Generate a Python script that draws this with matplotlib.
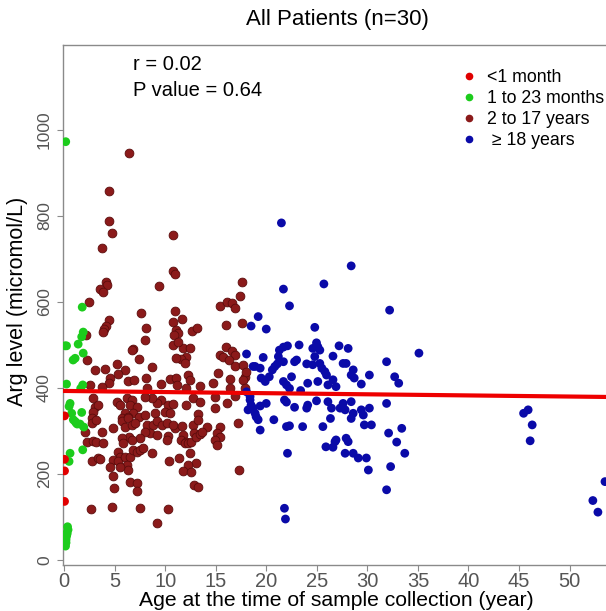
import numpy as np
import matplotlib
matplotlib.use("Agg")
import matplotlib.pyplot as plt
from matplotlib.lines import Line2D

plt.rcParams["font.family"] = ["Liberation Sans", "DejaVu Sans"]

# ── data ──────────────────────────────────────────────────
# <1 month
red_age = [0.05, 0.05, 0.05, 0.05]
red_val = [335, 234, 207, 136]

# 1 to 23 months
green_age = [0.17, 1.8, 1.9, 1.75, 1.4, 0.1, 0.25, 1.1, 0.9, 1.9, 1.85, 1.65, 0.25,
             0.6, 0.5, 0.76, 0.92, 1.19, 1.58, 1.75, 1.1, 1.3, 1.95, 0.6, 0.5, 1.85,
             0.35, 0.4, 0.3, 0.25, 0.2, 0.2, 0.15, 0.3]
green_val = [973, 588, 530, 519, 502, 498, 498, 469, 465, 481, 407, 399, 409,
             364, 357, 341, 326, 319, 316, 343, 322, 316, 309, 248, 229, 256,
             77, 70, 63, 55, 47, 40, 32, 60]

# 2 to 17 years
dred_age = [6.42, 4.48, 4.48, 4.78, 3.72, 10.8, 10.8, 10.97, 9.42, 4.15, 4.28, 3.56, 3.82,
            2.47, 4.45, 4.15, 3.95, 3.88, 7.6, 8.1, 8.0, 10.97, 10.8, 11.63, 11.07, 11.3,
            10.87, 12.7, 13.2, 15.4, 16.1, 16.0, 16.0, 6.8, 10.8, 11.8, 12.45,
            17.6, 17.4, 16.6, 16.9, 17.6, 11.3, 16.6, 15.4, 15.7, 16.9, 16.3, 16.9, 17.7,
            17.9, 17.95, 12.1, 11.6, 11.1, 11.95, 15.2, 16.4, 17.7, 9.6, 10.5, 11.1, 11.2,
            12.3, 12.45, 12.1, 13.4, 14.75, 16.4, 17.9, 9.6, 10.3, 10.8, 10.0, 10.5, 12.1,
            12.8, 13.4, 14.9, 14.9, 16.1, 13.3, 16.9,
            2.17, 6.69, 7.44, 2.3, 3.06, 4.05, 5.27, 6.03, 4.55, 4.48, 5.37, 6.35, 6.92,
            8.1, 8.67, 8.23, 2.57, 3.72, 2.9, 3.06, 3.39, 5.2, 5.53, 6.2, 6.69, 6.52, 7.18,
            6.0, 6.85, 7.44, 8.0, 9.0, 9.16, 8.67, 8.0, 5.7, 6.35,
            2.9, 2.73, 2.73, 3.16, 2.07, 2.3, 2.84, 3.16, 3.88, 3.72, 2.73, 3.39, 3.56,
            4.87, 5.7, 6.03, 6.35, 6.69, 7.0, 8.23, 8.83, 8.5, 9.16, 8.0, 7.5, 6.45, 6.69,
            5.7, 5.86, 5.37, 5.53, 4.87, 5.37, 6.03, 6.52, 6.85, 7.18, 7.5, 7.84, 8.67,
            6.2, 6.35, 5.53, 4.55, 4.81, 4.94, 6.52, 7.18, 7.24, 4.71, 7.5, 2.67, 9.2,
            9.16, 9.65, 10.15, 10.97, 10.8, 11.63, 12.8, 13.3, 14.1, 15.4, 15.1, 15.4,
            14.9, 15.1, 10.3, 10.15, 11.8, 11.6, 12.1, 11.95, 12.3, 12.6, 12.9, 13.1,
            13.4, 13.6, 12.45, 13.1, 10.4, 11.4, 12.3, 11.8, 12.55, 17.2, 17.3, 12.9,
            13.3, 10.3]
dred_val = [946, 859, 789, 760, 726, 756, 671, 665, 638, 647, 640, 630, 623,
            601, 557, 544, 536, 530, 574, 540, 512, 580, 554, 560, 535, 527,
            523, 533, 540, 591, 601, 546, 496, 490, 500, 492, 494,
            647, 615, 597, 585, 552, 508, 485, 477, 471, 477, 465, 450, 453,
            426, 438, 473, 467, 469, 458, 434, 420, 419, 409, 421, 423, 407,
            430, 419, 399, 405, 411, 399, 399, 372, 360, 363, 345, 341, 360,
            376, 368, 380, 353, 364, 339, 381,
            523, 488, 467, 465, 442, 444, 456, 442, 423, 411, 433, 415, 419,
            423, 448, 399, 407, 403, 376, 356, 360, 368, 360, 376, 372, 360, 356,
            341, 341, 333, 337, 341, 364, 376, 380, 329, 333,
            343, 330, 318, 326, 298, 274, 277, 275, 273, 298, 229, 238, 234,
            306, 322, 310, 330, 314, 318, 314, 314, 295, 291, 298, 283, 287, 279,
            283, 271, 252, 240, 233, 229, 240, 240, 256, 252, 256, 260, 248,
            221, 209, 217, 217, 194, 167, 182, 178, 161, 124, 120, 119, 85,
            322, 314, 318, 306, 314, 312, 314, 326, 310, 310, 295, 287,
            279, 267, 288, 279, 291, 279, 275, 271, 271, 275, 295, 287,
            293, 298, 248, 226, 230, 237, 221, 207, 205, 318, 209, 174,
            169, 118]

# >= 18 years
blue_age = [21.5, 28.4, 25.7, 21.7, 22.3, 32.2, 19.2, 18.5, 20.0, 24.8, 35.1, 18.05, 19.7,
            18.9, 19.4, 21.3, 21.7, 22.1, 21.2, 21.1, 21.7, 20.85, 20.6, 23.25, 23.0, 22.8,
            24.97, 25.1, 25.3, 24.6, 24.8, 24.0, 24.6, 25.3, 25.5, 25.8, 27.2, 28.1, 26.6,
            27.6, 27.9, 28.4, 28.7, 29.4, 30.2, 28.6, 31.9, 32.7, 33.1, 19.5, 20.3, 19.9,
            21.7, 22.3, 22.0, 22.5, 23.4, 24.1, 25.1, 25.96, 26.1, 26.6, 26.9,
            18.05, 18.4, 18.5, 18.7, 18.9, 19.2, 19.0, 19.4, 20.0, 19.4, 20.75, 22.0, 22.3,
            21.8, 22.0, 22.8, 24.0, 24.1, 24.97, 23.6, 22.1,
            25.6, 25.9, 26.6, 26.8, 26.9, 26.35, 26.45, 26.1, 27.3, 27.8, 27.6, 28.4, 28.6,
            28.4, 29.4, 29.6, 30.2, 29.7, 30.4, 27.9, 28.1, 27.8, 28.6, 29.1, 30.1, 31.9,
            32.1, 32.9, 33.4, 33.7, 32.3, 31.9, 21.8, 21.9, 29.9, 18.7, 18.4, 18.2,
            45.45, 45.9, 46.3, 46.1, 53.5, 52.3, 52.8]
blue_val = [784, 684, 642, 630, 591, 581, 566, 544, 537, 541, 481, 479, 471,
            450, 446, 488, 495, 498, 473, 456, 461, 450, 442, 500, 465, 461,
            505, 496, 488, 492, 473, 456, 454, 457, 446, 438, 498, 492, 474,
            457, 457, 430, 423, 409, 430, 442, 461, 426, 411, 423, 426, 415,
            415, 399, 407, 426, 394, 411, 415, 430, 407, 419, 403,
            391, 372, 360, 353, 341, 326, 333, 302, 364, 358, 326, 310, 312,
            372, 367, 355, 353, 360, 370, 310, 248,
            310, 263, 262, 275, 279, 329, 353, 368, 353, 349, 364, 368, 341,
            329, 349, 337, 353, 314, 314, 283, 275, 248, 248, 237, 209, 364,
            295, 274, 306, 248, 217, 163, 120, 95, 237, 450, 380, 349,
            341, 349, 314, 277, 182, 138, 111]

# regression line
fit_intercept = 393.0
fit_slope = -0.26

groups = ["<1 month", "1 to 23 months", "2 to 17 years", " \u2265 18 years"]
colors = ["#e00000", "#1ccc1c", "#8b1a1a", "#0a0aa8"]
xticks = list(range(0, 55, 5))
yticks = list(range(0, 1200, 200))

# ── figure ───────────────────────────────────────────────
W, H = 606, 611
fig = plt.figure(figsize=(W / 100, H / 100), dpi=100)
ax = fig.add_axes([63 / W, (H - 565) / H, (W - 63) / W, (565 - 45) / H])
ax.set_xlim(-0.1, 53.6)
ax.set_ylim(-12, 1198)

ms = 40
ax.scatter(dred_age, dred_val, s=ms, color=colors[2], edgecolors="#5c0c0c", linewidths=0.6, zorder=3)
ax.scatter(blue_age, blue_val, s=ms, color=colors[3], edgecolors="none", zorder=3)
ax.scatter(green_age, green_val, s=ms, color=colors[1], edgecolors="none", zorder=3)
ax.scatter(red_age, red_val, s=ms, color=colors[0], edgecolors="none", zorder=3)

xs = np.array(ax.get_xlim())
ax.plot(xs, fit_intercept + fit_slope * xs, color="#ee0000", lw=3.0, zorder=4)

for s in ["left", "bottom", "top"]:
    ax.spines[s].set_color("#8a8a8a")
    ax.spines[s].set_linewidth(1.0)
ax.spines["right"].set_visible(False)

ax.set_xticks(xticks)
ax.set_yticks(yticks)
ax.set_yticklabels([str(v) for v in yticks], rotation=90, va="center")
ax.tick_params(axis="x", colors="#8a8a8a", labelcolor="#555555", labelsize=14.5, length=4, pad=1)
ax.tick_params(axis="y", colors="#8a8a8a", labelcolor="#555555", labelsize=12.5, length=4, pad=4)

fig.text(337 / W, 1 - 20 / H, "All Patients (n=30)", ha="center", va="center", fontsize=16)
fig.text(336 / W, 1 - 601 / H, "Age at the time of sample collection (year)",
         ha="center", va="center", fontsize=15.2)
fig.text(18 / W, 1 - 301 / H, "Arg level (micromol/L)", ha="center", va="center",
         rotation=90, fontsize=15.5)
fig.text(133 / W, 1 - 65 / H, "r = 0.02", ha="left", va="center", fontsize=14.5)
fig.text(133 / W, 1 - 90 / H, "P value = 0.64", ha="left", va="center", fontsize=14.5)

handles = [Line2D([], [], marker="o", ls="", color=c, markersize=4.5) for c in colors]
fig.legend(handles, groups, loc="upper left", bbox_to_anchor=(462 / W, 1 - 69 / H),
           frameon=False, fontsize=12.8, handlelength=0.8, handletextpad=0.62,
           labelspacing=0.22, borderpad=0, borderaxespad=0)

fig.savefig("out.png", dpi=100)
